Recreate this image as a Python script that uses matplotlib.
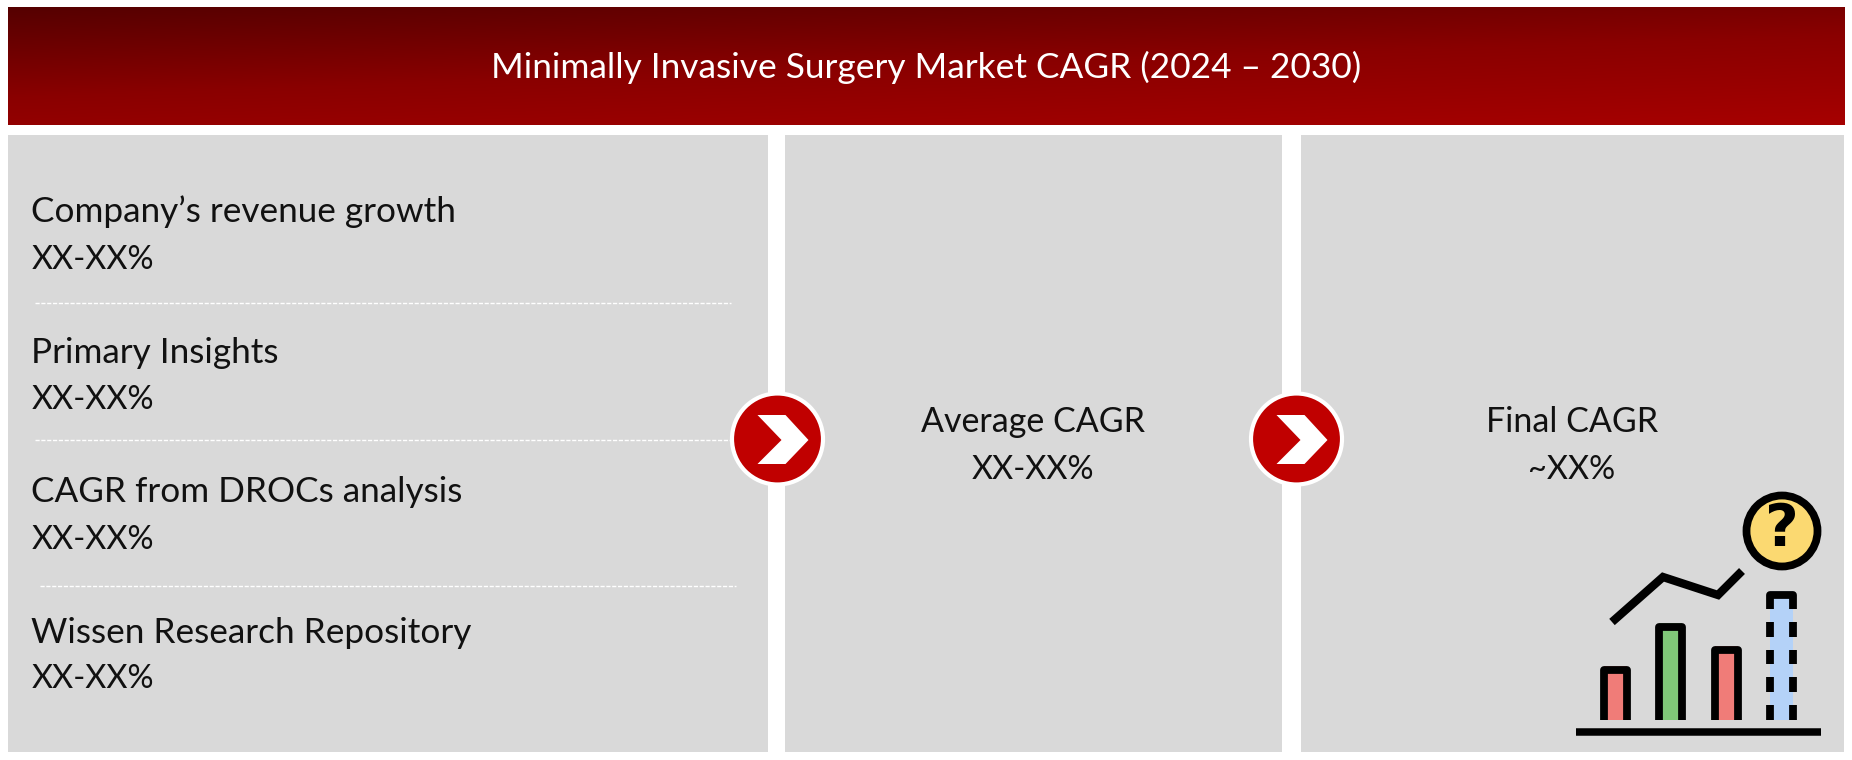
import numpy as np
import matplotlib
matplotlib.use("Agg")
import matplotlib.pyplot as plt
from matplotlib.patches import Rectangle, Circle, Polygon
from matplotlib.colors import LinearSegmentedColormap

plt.rcParams['font.family'] = ['Lato', 'DejaVu Sans']

title = "Minimally Invasive Surgery Market CAGR (2024 – 2030)"
sources = ["Company’s revenue growth", "Primary Insights", "CAGR from DROCs analysis", "Wissen Research Repository"]
source_values = ["XX-XX%", "XX-XX%", "XX-XX%", "XX-XX%"]
average_label = ["Average CAGR", "XX-XX%"]
final_label = ["Final CAGR", "~XX%"]
icon_bar_heights = [54, 97, 74, 129]
icon_bar_colors = ["#f07c78", "#80c878", "#f07c78", "#b4d2f8"]
icon_line_x = [1612, 1663, 1718, 1742]
icon_line_y = [622, 577, 595, 571]

GREY = "#d9d9d9"
INK = "#111111"
fig = plt.figure(figsize=(18.52, 7.6), dpi=100, facecolor="white")
ax = fig.add_axes([0, 0, 1, 1])

# header gradient
gx, gy = np.meshgrid(np.linspace(0, 1, 400), np.linspace(0, 1, 60))
cmap = LinearSegmentedColormap.from_list("hdr", ["#560000", "#8a0000", "#a60000"])
ax.imshow(0.65 * gy + 0.35 * gx, extent=(8, 1845, 125, 7), cmap=cmap, vmin=0, vmax=1,
          aspect="auto", interpolation="bilinear", zorder=1)
ax.text(926, 67, title, color="white", fontsize=25.35, ha="center", va="center", zorder=3)

# panels
for x0, x1 in [(8, 768), (785, 1282), (1301, 1844)]:
    ax.add_patch(Rectangle((x0, 135), x1 - x0, 617, fc=GREY, ec="none", zorder=1))

# left column
text_ys = [(212, 260), (353, 400), (492, 540), (633, 679)]
for label, value, (y0, y1) in zip(sources, source_values, text_ys):
    ax.text(31, y0, label, color=INK, fontsize=25.3, ha="left", va="center", zorder=3)
    ax.text(32, y1, value, color=INK, fontsize=23.4, ha="left", va="center", zorder=3)
for y, x0, x1 in [(303, 35, 731), (440, 35, 731), (586, 40, 736)]:
    ax.plot([x0, x1], [y, y], color="white", lw=1, ls=(0, (3, 1.2)), zorder=2)

# centre / right columns
for cx, lines in [(1033, average_label), (1572, final_label)]:
    ax.text(cx, 422, lines[0], color=INK, fontsize=24.5, ha="center", va="center", zorder=3)
    ax.text(cx, 470, lines[1], color=INK, fontsize=23.4, ha="center", va="center", zorder=3)

# chevron badges
chev = np.array([(-20, -24), (8, -24), (31, 1), (8, 25), (-20, 25), (4, 1)], float)
for cx in (777.5, 1296.5):
    ax.add_patch(Circle((cx, 439), 45.5, fc="#c00000", ec="white", lw=3, zorder=4))
    ax.add_patch(Polygon(chev + [cx, 439], closed=True, fc="white", ec="none", zorder=5))

# icon
base = 720
centers = [1615.5, 1670.5, 1726.5, 1781.5]
for i, (c, h, col) in enumerate(zip(centers, icon_bar_heights, icon_bar_colors)):
    ax.bar(c, -h, bottom=base, width=23, color=col, zorder=3)
    px = [c - 11.5, c - 11.5, c + 11.5, c + 11.5]
    py = [base, base - h + 4, base - h + 4, base]
    if i < 3:
        ax.plot(px, py, color="black", lw=5.6, solid_joinstyle="round", solid_capstyle="butt", zorder=4)
    else:
        for xx in (px[0], px[3]):
            for y0, y1 in [(705, 720), (677, 692), (650, 664), (622, 637)]:
                ax.plot([xx, xx], [y0, y1], color="black", lw=5.6, solid_capstyle="butt", zorder=4)
        ax.plot(px, [609, base - h + 4, base - h + 4, 609], color="black", lw=5.6,
                solid_joinstyle="round", solid_capstyle="butt", zorder=4)
ax.plot([1576, 1821], [732, 732], color="black", lw=5.4, solid_capstyle="butt", zorder=4)
ax.plot(icon_line_x, icon_line_y, color="black", lw=6, solid_joinstyle="miter", solid_capstyle="butt", zorder=4)
ax.add_patch(Circle((1782, 531), 35.5, fc="#fbd971", ec="black", lw=5.6, zorder=4))
ax.text(1782, 530, "?", color="black", fontsize=42, fontweight="bold",
        family="DejaVu Sans", ha="center", va="center", zorder=5)

ax.set_xlim(0, 1852)
ax.set_ylim(760, 0)
ax.axis("off")
fig.savefig("out.png", dpi=100)
